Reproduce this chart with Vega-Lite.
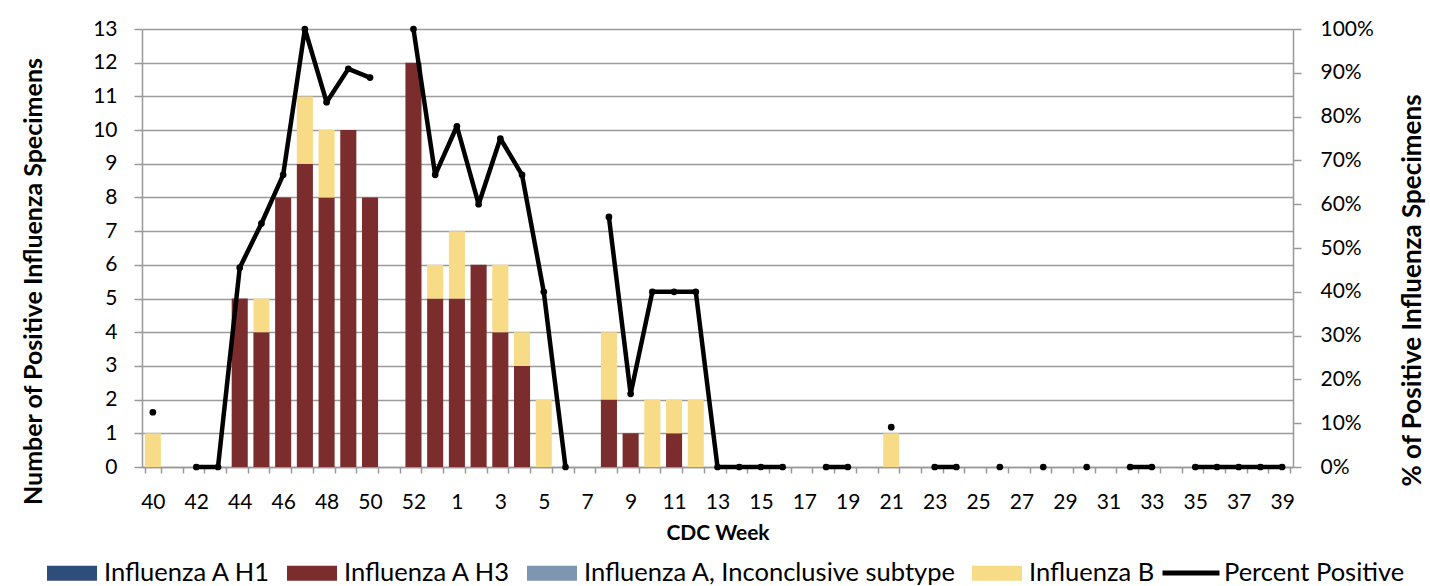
{
  "$schema": "https://vega.github.io/schema/vega-lite/v6.json",
  "width": 1151,
  "height": 438,
  "autosize": {"type": "none"},
  "padding": {"left": 142, "top": 29, "right": 137, "bottom": 119},
  "background": "white",
  "config": {
    "font": "Lato",
    "view": {"stroke": null},
    "axis": {
      "labelFont": "Lato",
      "labelFontSize": 21,
      "labelColor": "#000000",
      "titleFont": "Lato",
      "titleFontSize": 25,
      "titleFontWeight": "bold",
      "titleColor": "#000000",
      "domainColor": "#999999",
      "domainWidth": 1.5,
      "tickColor": "#999999",
      "tickWidth": 1.5,
      "gridColor": "#9a9a9a",
      "gridWidth": 1.5
    },
    "legend": {"labelFont": "Lato", "labelFontSize": 25.5, "labelColor": "#000000", "labelLimit": 500}
  },
  "datasets": {
    "counts": [
      {"week": "40", "type": "Influenza B", "count": 1},
      {"week": "44", "type": "Influenza A H3", "count": 5},
      {"week": "45", "type": "Influenza A H3", "count": 4},
      {"week": "45", "type": "Influenza B", "count": 1},
      {"week": "46", "type": "Influenza A H3", "count": 8},
      {"week": "47", "type": "Influenza A H3", "count": 9},
      {"week": "47", "type": "Influenza B", "count": 2},
      {"week": "48", "type": "Influenza A H3", "count": 8},
      {"week": "48", "type": "Influenza B", "count": 2},
      {"week": "49", "type": "Influenza A H3", "count": 10},
      {"week": "50", "type": "Influenza A H3", "count": 8},
      {"week": "52", "type": "Influenza A H3", "count": 12},
      {"week": "53", "type": "Influenza A H3", "count": 5},
      {"week": "53", "type": "Influenza B", "count": 1},
      {"week": "1", "type": "Influenza A H3", "count": 5},
      {"week": "1", "type": "Influenza B", "count": 2},
      {"week": "2", "type": "Influenza A H3", "count": 6},
      {"week": "3", "type": "Influenza A H3", "count": 4},
      {"week": "3", "type": "Influenza B", "count": 2},
      {"week": "4", "type": "Influenza A H3", "count": 3},
      {"week": "4", "type": "Influenza B", "count": 1},
      {"week": "5", "type": "Influenza B", "count": 2},
      {"week": "8", "type": "Influenza A H3", "count": 2},
      {"week": "8", "type": "Influenza B", "count": 2},
      {"week": "9", "type": "Influenza A H3", "count": 1},
      {"week": "10", "type": "Influenza B", "count": 2},
      {"week": "11", "type": "Influenza A H3", "count": 1},
      {"week": "11", "type": "Influenza B", "count": 1},
      {"week": "12", "type": "Influenza B", "count": 2},
      {"week": "21", "type": "Influenza B", "count": 1}
    ],
    "pct": [
      {"week": "40", "pct": 0.125},
      {"week": "41", "pct": null},
      {"week": "42", "pct": 0},
      {"week": "43", "pct": 0},
      {"week": "44", "pct": 0.455},
      {"week": "45", "pct": 0.556},
      {"week": "46", "pct": 0.667},
      {"week": "47", "pct": 1.0},
      {"week": "48", "pct": 0.833},
      {"week": "49", "pct": 0.909},
      {"week": "50", "pct": 0.889},
      {"week": "51", "pct": null},
      {"week": "52", "pct": 1.0},
      {"week": "53", "pct": 0.667},
      {"week": "1", "pct": 0.778},
      {"week": "2", "pct": 0.6},
      {"week": "3", "pct": 0.75},
      {"week": "4", "pct": 0.667},
      {"week": "5", "pct": 0.4},
      {"week": "6", "pct": 0},
      {"week": "7", "pct": null},
      {"week": "8", "pct": 0.571},
      {"week": "9", "pct": 0.167},
      {"week": "10", "pct": 0.4},
      {"week": "11", "pct": 0.4},
      {"week": "12", "pct": 0.4},
      {"week": "13", "pct": 0},
      {"week": "14", "pct": 0},
      {"week": "15", "pct": 0},
      {"week": "16", "pct": 0},
      {"week": "17", "pct": null},
      {"week": "18", "pct": 0},
      {"week": "19", "pct": 0},
      {"week": "20", "pct": null},
      {"week": "21", "pct": 0.091},
      {"week": "22", "pct": null},
      {"week": "23", "pct": 0},
      {"week": "24", "pct": 0},
      {"week": "25", "pct": null},
      {"week": "26", "pct": 0},
      {"week": "27", "pct": null},
      {"week": "28", "pct": 0},
      {"week": "29", "pct": null},
      {"week": "30", "pct": 0},
      {"week": "31", "pct": null},
      {"week": "32", "pct": 0},
      {"week": "33", "pct": 0},
      {"week": "34", "pct": null},
      {"week": "35", "pct": 0},
      {"week": "36", "pct": 0},
      {"week": "37", "pct": 0},
      {"week": "38", "pct": 0},
      {"week": "39", "pct": 0}
    ]
  },
  "layer": [
    {
      "data": {"name": "counts"},
      "mark": {"type": "bar"},
      "encoding": {
        "x": {
          "field": "week",
          "type": "ordinal",
          "scale": {
            "domain": ["40","41","42","43","44","45","46","47","48","49","50","51","52","53","1","2","3","4","5","6","7","8","9","10","11","12","13","14","15","16","17","18","19","20","21","22","23","24","25","26","27","28","29","30","31","32","33","34","35","36","37","38","39"],
            "paddingInner": 0.26,
            "paddingOuter": 0.13
          },
          "axis": {
            "title": "CDC Week",
            "titleFontSize": 21,
            "labelAngle": 0,
            "tickBand": "extent",
            "tickSize": 6,
            "labelPadding": 18,
            "labelExpr": "(toNumber(datum.value) >= 40 ? toNumber(datum.value) % 2 == 0 : toNumber(datum.value) % 2 == 1) ? datum.value : ''",
            "titleY": 66,
            "titleBaseline": "middle"
          }
        },
        "y": {
          "field": "count",
          "type": "quantitative",
          "stack": "zero",
          "scale": {"domain": [0, 13], "nice": false},
          "axis": {
            "title": "Number of Positive Influenza Specimens",
            "values": [0,1,2,3,4,5,6,7,8,9,10,11,12,13],
            "grid": true,
            "tickSize": 8,
            "labelPadding": 17,
            "titleAngle": 270,
            "titleX": -109,
            "titleY": 252,
            "titleAlign": "center",
            "titleBaseline": "middle"
          }
        },
        "color": {
          "field": "type",
          "type": "nominal",
          "scale": {
            "domain": ["Influenza A H1", "Influenza A H3", "Influenza A, Inconclusive subtype", "Influenza B"],
            "range": ["#2E4D7A", "#7B2C2C", "#7F96B3", "#F7DB87"]
          },
          "legend": {
            "orient": "none",
            "legendX": -95,
            "legendY": 519,
            "direction": "horizontal",
            "title": null,
            "symbolType": "M-1,-0.3L1,-0.3L1,0.3L-1,0.3Z",
            "symbolSize": 2500,
            "symbolStrokeWidth": 0,
            "symbolOpacity": 1,
            "columnPadding": 16,
            "labelOffset": 7
          }
        },
        "order": {"field": "type", "sort": "ascending"}
      }
    },
    {
      "data": {"name": "pct"},
      "layer": [
        {
          "mark": {"type": "line", "strokeWidth": 4.5, "strokeJoin": "round", "strokeCap": "round", "invalid": "break-paths-show-domains"},
          "encoding": {
            "x": {
              "field": "week",
              "type": "ordinal",
              "scale": {
                "domain": ["40","41","42","43","44","45","46","47","48","49","50","51","52","53","1","2","3","4","5","6","7","8","9","10","11","12","13","14","15","16","17","18","19","20","21","22","23","24","25","26","27","28","29","30","31","32","33","34","35","36","37","38","39"]
              }
            },
            "y": {
              "field": "pct",
              "type": "quantitative",
              "scale": {"domain": [0, 1], "nice": false},
              "axis": {
                "orient": "right",
                "title": "% of Positive Influenza Specimens",
                "titleFontSize": 26,
                "format": ".0%",
                "values": [0,0.1,0.2,0.3,0.4,0.5,0.6,0.7,0.8,0.9,1.0],
                "grid": false,
                "tickSize": 8,
                "labelPadding": 19,
                "titleAngle": 270,
                "titleX": 119,
                "titleY": 261,
                "titleAlign": "center",
                "titleBaseline": "middle"
              }
            },
            "stroke": {
              "datum": "Percent Positive",
              "type": "nominal",
              "scale": {"range": ["#000000"]},
              "legend": {
                "orient": "none",
                "legendX": 1018,
                "legendY": 513,
                "title": null,
                "symbolType": "stroke",
                "symbolSize": 3249,
                "symbolStrokeWidth": 5,
                "labelOffset": 2
              }
            },
            "order": {"value": null}
          }
        },
        {
          "mark": {"type": "circle", "size": 45, "color": "#000000", "opacity": 1},
          "encoding": {
            "x": {
              "field": "week",
              "type": "ordinal",
              "scale": {
                "domain": ["40","41","42","43","44","45","46","47","48","49","50","51","52","53","1","2","3","4","5","6","7","8","9","10","11","12","13","14","15","16","17","18","19","20","21","22","23","24","25","26","27","28","29","30","31","32","33","34","35","36","37","38","39"]
              }
            },
            "y": {"field": "pct", "type": "quantitative", "scale": {"domain": [0, 1], "nice": false}}
          }
        }
      ]
    }
  ],
  "resolve": {"scale": {"y": "independent"}}
}
